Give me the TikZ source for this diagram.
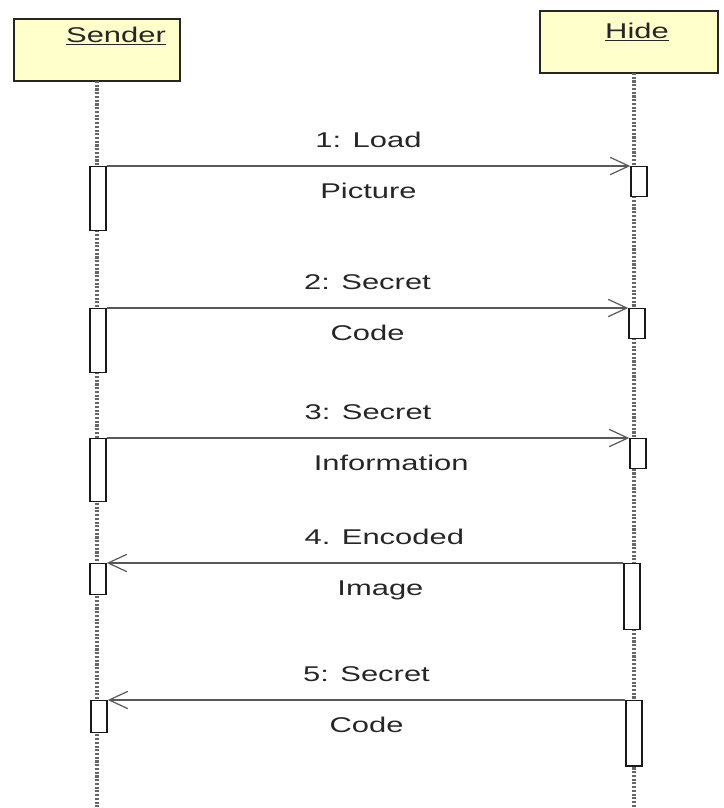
\documentclass[tikz,border=0pt]{standalone}
\usepackage{fontspec}
\setmainfont{Liberation Sans}
\usetikzlibrary{arrows.meta}
\definecolor{headfill}{HTML}{FFFFCC}
\tikzset{
  txt/.style={font=\fontsize{16}{19}\selectfont, xscale=1.45, inner sep=0pt, text=black!85},
  headbox/.style={draw=black!85, line width=1.1pt, fill=headfill, minimum height=46.5pt},
  lifeline/.style={draw=black!60, line width=2.6pt, dash pattern=on 1.6pt off 1.2pt},
  actbox/.style={draw=black!90, line width=1.1pt, fill=white, minimum width=12pt, anchor=north, inner sep=0pt},
  msg/.style={draw=black!65, line width=1.1pt, -{Straight Barb[length=14pt, width=13pt, line width=0.9pt]}},
  toplabel/.style={txt, anchor=base, yshift=14pt},
  botlabel/.style={txt, anchor=base, yshift=-24pt}
}
\begin{document}
\begin{tikzpicture}[x=0.75pt, y=-0.75pt]
  \useasboundingbox (0,0) rectangle (724,808);
  \node[headbox, minimum width=124.5pt] (sender) at (97,50) {};
  \node[headbox, minimum width=133.5pt] (hide) at (629,42) {};
  \node[txt, anchor=base] (sendername) at (116,42) {\underline{Sender}};
  \node[txt, anchor=base] (hidename) at (637,38) {\underline{Hide}};
  \coordinate (sendtop) at (97,81);
  \coordinate (sendend) at (97,808);
  \coordinate (hidetop) at (634,73);
  \coordinate (hideend) at (634,808);
  \draw[lifeline] (sendtop) -- (sendend);
  \draw[lifeline] (hidetop) -- (hideend);
  \node[actbox, minimum height=48pt] (s1) at (98,166) {};
  \node[actbox, minimum height=48pt] (s2) at (98,308) {};
  \node[actbox, minimum height=47pt] (s3) at (98,438) {};
  \node[actbox, minimum height=23pt] (s4) at (98,563) {};
  \node[actbox, minimum height=24pt] (s5) at (99,700) {};
  \node[actbox, minimum height=22.5pt] (h1) at (639,166) {};
  \node[actbox, minimum height=22.5pt] (h2) at (637,308) {};
  \node[actbox, minimum height=22.5pt] (h3) at (638,438) {};
  \node[actbox, minimum height=49.5pt] (h4) at (632,563) {};
  \node[actbox, minimum height=49pt] (h5) at (634,700) {};
  \draw[msg] (s1.north east) -- node[toplabel] (m1a) {1: Load} node[botlabel] (m1b) {Picture} (h1.north west);
  \draw[msg] (s2.north east) -- node[toplabel] (m2a) {2: Secret} node[botlabel] (m2b) {Code} (h2.north west);
  \draw[msg] (s3.north east) -- node[toplabel] (m3a) {3: Secret} node[botlabel, xshift=12pt] (m3b) {Information} (h3.north west);
  \draw[msg] (h4.north west) -- node[toplabel, xshift=10pt] (m4a) {4. Encoded} node[botlabel, xshift=8pt] (m4b) {Image} (s4.north east);
  \draw[msg] (h5.north west) -- node[toplabel] (m5a) {5: Secret} node[botlabel] (m5b) {Code} (s5.north east);
\end{tikzpicture}
\end{document}
